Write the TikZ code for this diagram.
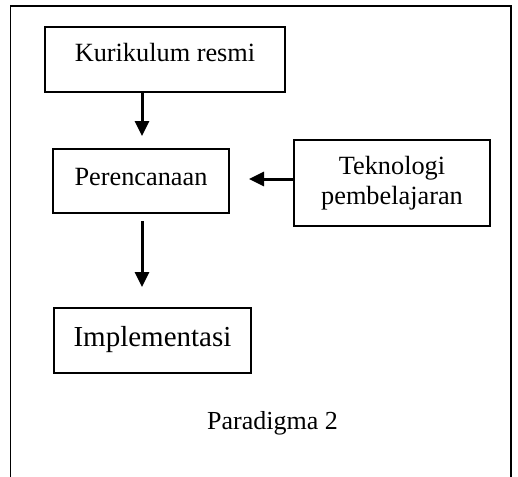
\documentclass[tikz,border=0pt]{standalone}
\usepackage{fontspec}
\setmainfont{Liberation Serif}
\usetikzlibrary{arrows.meta}
\begin{document}
\begin{tikzpicture}[x=1pt,y=-1pt,
  boxnode/.style={draw=black,line width=1.4pt,inner sep=0pt,font=\fontsize{26.3}{30}\selectfont},
  flowarrow/.style={line width=3pt,-{Triangle[length=15pt,width=14pt]}},
  txt/.style={inner sep=0pt,font=\fontsize{26}{30}\selectfont}]
\useasboundingbox (0,0) rectangle (518,476);
\draw[line width=1.7pt] (10.5,480) -- (10.5,6) -- (510.7,6) -- (510.7,480);
\node[boxnode,minimum width=240pt,text height=35pt,text depth=30pt] (kur) at (165,59.5) {Kurikulum resmi};
\node[boxnode,minimum width=176pt,text height=36pt,text depth=28pt] (per) at (141,181) {Perencanaan};
\node[boxnode,minimum width=196pt,minimum height=86pt,align=center] (tek) at (392,183) {Teknologi\\pembelajaran};
\node[boxnode,minimum width=197pt,text height=38pt,text depth=27pt,font=\fontsize{29}{33}\selectfont] (imp) at (152.5,340.5) {Implementasi};
\node[txt,anchor=base] (par) at (272.5,429) {Paradigma 2};
\coordinate (a1e) at (142,136);
\coordinate (a2s) at (142,221);
\coordinate (a2e) at (142,287);
\coordinate (a3e) at (249,179);
\draw[flowarrow] (kur.south -| a1e) -- (a1e);
\draw[flowarrow] (a2s) -- (a2e);
\draw[flowarrow] (tek.west |- a3e) -- (a3e);
\end{tikzpicture}
\end{document}
